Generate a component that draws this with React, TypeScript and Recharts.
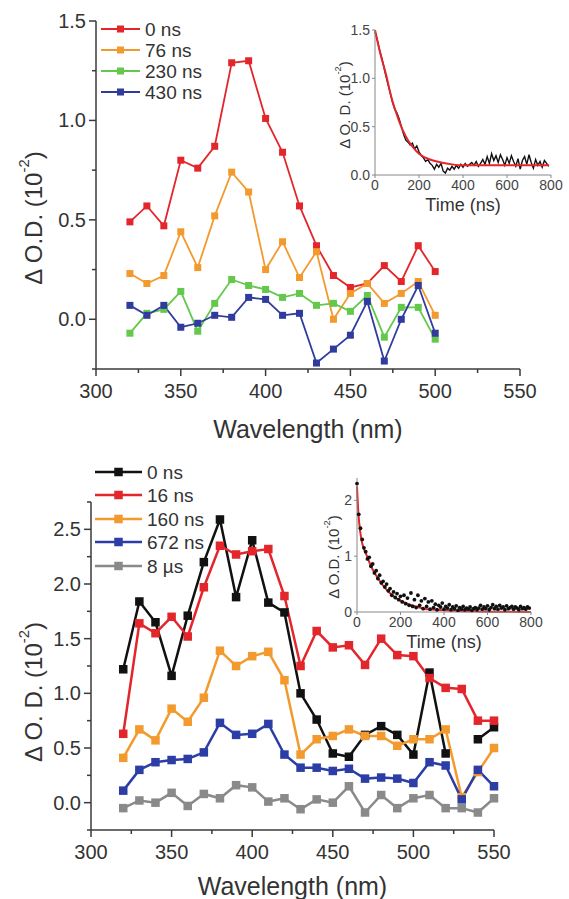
import React from "react";
import {
  LineChart,
  ComposedChart,
  Line,
  Scatter,
  XAxis,
  YAxis,
  Label,
} from "recharts";

const FONT = '"Liberation Sans", Arial, Helvetica, sans-serif';
const AXIS = "#3a3a3a";
const TEXT = "#333";

// ---- top panel: spectra at 0 / 76 / 230 / 430 ns ----
const TOP_NM = [320, 330, 340, 350, 360, 370, 380, 390, 400, 410, 420, 430, 440, 450, 460, 470, 480, 490, 500];
const TOP_0NS = [0.49, 0.57, 0.47, 0.8, 0.76, 0.87, 1.29, 1.3, 1.01, 0.84, 0.57, 0.37, 0.22, 0.16, 0.18, 0.27, 0.19, 0.37, 0.24];
const TOP_76NS = [0.23, 0.18, 0.22, 0.44, 0.26, 0.52, 0.74, 0.64, 0.25, 0.39, 0.21, 0.34, 0.0, 0.13, 0.18, 0.08, 0.13, 0.19, 0.02];
const TOP_230NS = [-0.07, 0.03, 0.05, 0.14, -0.06, 0.08, 0.2, 0.17, 0.15, 0.11, 0.13, 0.07, 0.08, 0.04, 0.12, -0.09, 0.06, 0.06, -0.1];
const TOP_430NS = [0.07, 0.02, 0.07, -0.04, -0.02, 0.02, 0.01, 0.11, 0.1, 0.02, 0.03, -0.22, -0.15, -0.08, 0.09, -0.21, 0.0, 0.17, -0.07];

// ---- bottom panel: spectra at 0 / 16 / 160 / 672 ns / 8 us ----
const BOT_NM = [320, 330, 340, 350, 360, 370, 380, 390, 400, 410, 420, 430, 440, 450, 460, 470, 480, 490, 500, 510, 520, 530, 540, 550];
const BOT_0NS = [1.22, 1.84, 1.65, 1.16, 1.71, 2.2, 2.59, 1.88, 2.4, 1.83, 1.74, 1.0, 0.76, 0.45, 0.42, 0.62, 0.7, 0.62, 0.44, 1.19, 0.45, null, 0.58, 0.69];
const BOT_16NS = [0.63, 1.64, 1.55, 1.7, 1.52, 1.97, 2.35, 2.27, 2.3, 2.32, 1.89, 1.25, 1.57, 1.42, 1.44, 1.26, 1.5, 1.35, 1.34, 1.14, 1.05, 1.04, 0.75, 0.75];
const BOT_160NS = [0.41, 0.67, 0.57, 0.86, 0.74, 0.96, 1.39, 1.25, 1.34, 1.38, 1.12, 0.44, 0.58, 0.61, 0.67, 0.61, 0.61, 0.52, 0.58, 0.58, 0.67, 0.05, 0.28, 0.5];
const BOT_672NS = [0.11, 0.3, 0.37, 0.39, 0.4, 0.46, 0.73, 0.62, 0.63, 0.72, 0.44, 0.32, 0.32, 0.29, 0.31, 0.22, 0.23, 0.22, 0.18, 0.37, 0.34, 0.03, 0.3, 0.15];
const BOT_8US = [-0.05, 0.02, 0.0, 0.09, -0.03, 0.08, 0.04, 0.16, 0.14, 0.01, 0.04, -0.06, 0.03, 0.0, 0.15, -0.09, 0.07, -0.05, 0.04, 0.07, -0.05, -0.05, -0.09, 0.04];

// ---- insets: kinetic traces (time ns, dOD) ----
const TOP_TRACE: [number, number][] = [
  [0, 1.48], [10, 1.4], [20, 1.3], [30, 1.22], [40, 1.12], [50, 1.02], [60, 0.93], [70, 0.84], [80, 0.75], [90, 0.68],
  [100, 0.64], [110, 0.58], [120, 0.5], [130, 0.42], [140, 0.36], [150, 0.34], [160, 0.31], [170, 0.33], [180, 0.27], [190, 0.3],
  [200, 0.24], [210, 0.2], [220, 0.18], [230, 0.14], [240, 0.16], [250, 0.12], [260, 0.1], [270, 0.06], [280, 0.11], [290, 0.08],
  [300, 0.12], [310, 0.04], [320, 0.02], [330, 0.07], [340, 0.05], [350, 0.09], [360, 0.06], [370, 0.1], [380, 0.07], [390, 0.11],
  [400, 0.08], [410, 0.12], [420, 0.09], [430, 0.11], [440, 0.13], [450, 0.1], [460, 0.14], [470, 0.09], [480, 0.12], [490, 0.16],
  [500, 0.11], [510, 0.19], [520, 0.12], [530, 0.22], [540, 0.15], [550, 0.2], [560, 0.13], [570, 0.21], [580, 0.16], [590, 0.1],
  [600, 0.18], [610, 0.12], [620, 0.2], [630, 0.14], [640, 0.09], [650, 0.17], [660, 0.06], [670, 0.15], [680, 0.19], [690, 0.11],
  [700, 0.21], [710, 0.13], [720, 0.07], [730, 0.16], [740, 0.1], [750, 0.14], [760, 0.08], [770, 0.15], [780, 0.12], [790, 0.09],
];
const TOP_FIT: [number, number][] = [
  [0, 1.5], [25, 1.25], [50, 1.04], [75, 0.8], [100, 0.62], [125, 0.47], [150, 0.36], [175, 0.28], [200, 0.22],
  [250, 0.16], [300, 0.13], [350, 0.11], [400, 0.1], [500, 0.1], [600, 0.1], [700, 0.1], [790, 0.1],
];
const BOT_TRACE: [number, number][] = [
  [0, 2.3], [8, 1.75], [16, 1.5], [24, 1.3], [32, 1.15], [40, 1.08], [48, 0.95], [56, 0.98], [64, 0.82], [72, 0.86],
  [80, 0.7], [88, 0.74], [96, 0.6], [104, 0.66], [112, 0.52], [120, 0.55], [128, 0.45], [136, 0.5], [144, 0.38], [152, 0.42],
  [160, 0.3], [168, 0.36], [176, 0.26], [184, 0.33], [192, 0.22], [200, 0.28], [208, 0.18], [216, 0.3], [224, 0.15], [232, 0.25],
  [240, 0.12], [248, 0.34], [256, 0.1], [264, 0.22], [272, 0.08], [280, 0.3], [288, 0.12], [296, 0.2], [304, 0.06], [312, 0.24],
  [320, 0.1], [328, 0.18], [336, 0.05], [344, 0.2], [352, 0.08], [360, 0.14], [368, 0.04], [376, 0.12], [384, 0.09], [392, 0.16],
  [400, 0.05], [408, 0.1], [416, 0.07], [424, 0.13], [432, 0.04], [440, 0.09], [448, 0.06], [456, 0.11], [464, 0.03], [472, 0.08],
  [480, 0.05], [488, 0.1], [496, 0.04], [504, 0.07], [512, 0.05], [520, 0.09], [528, 0.03], [536, 0.06], [544, 0.08], [552, 0.04],
  [560, 0.07], [568, 0.12], [576, 0.05], [584, 0.09], [592, 0.06], [600, 0.11], [608, 0.04], [616, 0.08], [624, 0.13], [632, 0.06],
  [640, 0.1], [648, 0.05], [656, 0.12], [664, 0.07], [672, 0.09], [680, 0.04], [688, 0.11], [696, 0.06], [704, 0.08], [712, 0.1],
  [720, 0.05], [728, 0.09], [736, 0.07], [744, 0.04], [752, 0.1], [760, 0.06], [768, 0.08], [776, 0.05], [784, 0.09], [792, 0.07],
];
const BOT_FIT: [number, number][] = [
  [0, 2.25], [5, 1.85], [10, 1.6], [20, 1.3], [30, 1.15], [46, 1.0], [60, 0.86], [75, 0.74], [92, 0.63], [120, 0.47],
  [153, 0.33], [190, 0.22], [230, 0.15], [270, 0.1], [306, 0.06], [360, 0.04], [460, 0.02], [560, 0.01], [800, 0.0],
];

// ticks
const WL_TICKS = [300, 325, 350, 375, 400, 425, 450, 475, 500, 525, 550];
const TOP_Y_TICKS = [-0.25, 0, 0.25, 0.5, 0.75, 1.0, 1.25, 1.5];
const BOT_Y_TICKS = [-0.25, 0, 0.25, 0.5, 0.75, 1.0, 1.25, 1.5, 1.75, 2.0, 2.25, 2.5, 2.75];
const TIME_TICKS = [0, 200, 400, 600, 800];
const TOP_INSET_Y = [0, 0.5, 1.0, 1.5];
const BOT_INSET_Y = [0, 1, 2];

const TOP_SERIES = [
  { key: "s0", name: "0 ns", color: "#e3262b", values: TOP_0NS },
  { key: "s76", name: "76 ns", color: "#f39a2e", values: TOP_76NS },
  { key: "s230", name: "230 ns", color: "#64c84c", values: TOP_230NS },
  { key: "s430", name: "430 ns", color: "#2f3c9e", values: TOP_430NS },
];
const BOT_SERIES = [
  { key: "b0", name: "0 ns", color: "#111111", values: BOT_0NS },
  { key: "b16", name: "16 ns", color: "#e3262b", values: BOT_16NS },
  { key: "b160", name: "160 ns", color: "#f39a2e", values: BOT_160NS },
  { key: "b672", name: "672 ns", color: "#2c3ea6", values: BOT_672NS },
  { key: "b8", name: "8 \u00b5s", color: "#8a8a8a", values: BOT_8US },
];

function buildRows(nm: number[], series: { key: string; values: (number | null)[] }[]) {
  return nm.map((x, i) => {
    const row: Record<string, number | null> = { nm: x };
    for (const s of series) row[s.key] = s.values[i];
    return row;
  });
}
const toXY = (pts: [number, number][]) => pts.map(([t, v]) => ({ t, v }));

const topRows = buildRows(TOP_NM, TOP_SERIES);
const botRows = buildRows(BOT_NM, BOT_SERIES);

const isMajor = (v: number, step: number) => Math.abs(v / step - Math.round(v / step)) < 1e-6;

function WlTick(props: any) {
  const { x, y, payload } = props;
  const major = isMajor(payload.value, 50);
  return (
    <g>
      <line x1={x} x2={x} y1={y} y2={y + (major ? 7 : 4)} stroke={AXIS} strokeWidth={1.5} />
      {major && (
        <text x={x} y={y + 29} textAnchor="middle" fontSize={20} fill={TEXT} fontFamily={FONT}>
          {payload.value}
        </text>
      )}
    </g>
  );
}

function OdTick(props: any) {
  const { x, y, payload } = props;
  const major = isMajor(payload.value, 0.5);
  return (
    <g>
      <line x1={x - (major ? 7 : 4)} x2={x} y1={y} y2={y} stroke={AXIS} strokeWidth={1.5} />
      {major && (
        <text x={x - 10} y={y + 7} textAnchor="end" fontSize={20} fill={TEXT} fontFamily={FONT}>
          {payload.value.toFixed(1)}
        </text>
      )}
    </g>
  );
}

const xTitle = (text: string, dy: number, size: number) => (props: any) => {
  const vb = props.viewBox;
  return (
    <text x={vb.x + vb.width / 2} y={vb.y + dy} textAnchor="middle" fontSize={size} fill={TEXT} fontFamily={FONT}>
      {text}
    </text>
  );
};

const yTitle = (text: string, cx: number, cy: number, size: number) => () => (
  <text
    x={cx}
    y={cy}
    transform={`rotate(-90 ${cx} ${cy})`}
    textAnchor="middle"
    dominantBaseline="central"
    fontSize={size}
    fill={TEXT}
    fontFamily={FONT}
  >
    {text}(10
    <tspan dy={-size * 0.38} fontSize={size * 0.62}>-2</tspan>
    <tspan dy={size * 0.38}>)</tspan>
  </text>
);

const squareDot = (color: string, s: number) => (p: any) => {
  const k = `${p.dataKey}-${p.index}`;
  if (p.cx == null || p.cy == null || p.value == null) return <g key={k} />;
  return <rect key={k} x={p.cx - s / 2} y={p.cy - s / 2} width={s} height={s} fill={color} />;
};

function LegendBlock({
  items,
  x0,
  x1,
  ys,
  size,
  lw,
}: {
  items: { name: string; color: string }[];
  x0: number;
  x1: number;
  ys: number[];
  size: number;
  lw: number;
}) {
  const mid = (x0 + x1) / 2;
  return (
    <>
      {items.map((it, i) => (
        <g key={it.name + i}>
          <line x1={x0} x2={x1} y1={ys[i]} y2={ys[i]} stroke={it.color} strokeWidth={lw} />
          <rect x={mid - size / 2} y={ys[i] - size / 2} width={size} height={size} fill={it.color} />
          <text x={x1 + 5} y={ys[i] + 7} fontSize={19} fill={TEXT} fontFamily={FONT}>
            {it.name}
          </text>
        </g>
      ))}
    </>
  );
}

const insetTickStyle = { fontSize: 14, fill: "#444", fontFamily: FONT };

export default function App() {
  return (
    <div style={{ position: "absolute", left: 0, top: 0, width: 569, height: 899, background: "#fff", fontFamily: FONT }}>
      {/* top main panel */}
      <div style={{ position: "absolute", left: 0, top: 0 }}>
        <LineChart width={569} height={460} data={topRows} margin={{ top: 21, right: 49, bottom: 0, left: 36 }}>
          <XAxis
            type="number"
            dataKey="nm"
            domain={[300, 550]}
            ticks={WL_TICKS}
            interval={0}
            tickSize={0}
            tickMargin={0}
            tickLine={false}
            tick={(p: any) => <WlTick {...p} />}
            axisLine={{ stroke: AXIS, strokeWidth: 1.5 }}
            height={91}
          >
            <Label content={xTitle("Wavelength (nm)", 69, 25)} />
          </XAxis>
          <YAxis
            type="number"
            domain={[-0.25, 1.5]}
            ticks={TOP_Y_TICKS}
            interval={0}
            tickSize={0}
            tickMargin={0}
            tickLine={false}
            tick={(p: any) => <OdTick {...p} />}
            axisLine={{ stroke: AXIS, strokeWidth: 1.5 }}
            width={60}
          >
            <Label content={yTitle("\u0394 O.D. ", 33, 218, 24)} />
          </YAxis>
          {TOP_SERIES.map((s) => (
            <Line
              key={s.key}
              type="linear"
              dataKey={s.key}
              stroke={s.color}
              strokeWidth={1.8}
              dot={squareDot(s.color, 7)}
              isAnimationActive={false}
            />
          ))}
        </LineChart>
      </div>

      {/* top inset */}
      <div style={{ position: "absolute", left: 320, top: 10 }}>
        <LineChart width={250} height={215} margin={{ top: 20, right: 19, bottom: 0, left: 0 }}>
          <XAxis
            type="number"
            dataKey="t"
            domain={[0, 800]}
            ticks={TIME_TICKS}
            interval={0}
            tickSize={3}
            tick={insetTickStyle}
            stroke="#888"
            height={50}
          >
            <Label content={xTitle("Time (ns)", 36, 18)} />
          </XAxis>
          <YAxis
            type="number"
            domain={[0, 1.5]}
            ticks={TOP_INSET_Y}
            interval={0}
            tickSize={3}
            tick={insetTickStyle}
            tickFormatter={(v: number) => v.toFixed(1)}
            stroke="#888"
            width={55}
          >
            <Label content={yTitle("\u0394 O. D. ", 24, 95, 15)} />
          </YAxis>
          <Line data={toXY(TOP_TRACE)} type="linear" dataKey="v" stroke="#111" strokeWidth={1.4} dot={false} isAnimationActive={false} />
          <Line data={toXY(TOP_FIT)} type="monotone" dataKey="v" stroke="#e3262b" strokeWidth={2} dot={false} isAnimationActive={false} />
        </LineChart>
      </div>

      {/* bottom main panel */}
      <div style={{ position: "absolute", left: 0, top: 440 }}>
        <LineChart width={569} height={459} data={botRows} margin={{ top: 62, right: 75, bottom: 0, left: 31 }}>
          <XAxis
            type="number"
            dataKey="nm"
            domain={[300, 550]}
            ticks={WL_TICKS}
            interval={0}
            tickSize={0}
            tickMargin={0}
            tickLine={false}
            tick={(p: any) => <WlTick {...p} />}
            axisLine={{ stroke: AXIS, strokeWidth: 1.5 }}
            height={69}
          >
            <Label content={xTitle("Wavelength (nm)", 65, 25)} />
          </XAxis>
          <YAxis
            type="number"
            domain={[-0.25, 2.75]}
            ticks={BOT_Y_TICKS}
            interval={0}
            tickSize={0}
            tickMargin={0}
            tickLine={false}
            tick={(p: any) => <OdTick {...p} />}
            axisLine={{ stroke: AXIS, strokeWidth: 1.5 }}
            width={60}
          >
            <Label content={yTitle("\u0394 O. D. ", 33, 252, 24)} />
          </YAxis>
          {BOT_SERIES.map((s) => (
            <Line
              key={s.key}
              type="linear"
              dataKey={s.key}
              stroke={s.color}
              strokeWidth={2.5}
              dot={squareDot(s.color, 8.5)}
              connectNulls={false}
              isAnimationActive={false}
            />
          ))}
        </LineChart>
      </div>

      {/* bottom inset */}
      <div style={{ position: "absolute", left: 300, top: 460 }}>
        <ComposedChart width={250} height={200} margin={{ top: 18, right: 19, bottom: 0, left: 0 }}>
          <XAxis
            type="number"
            dataKey="t"
            domain={[0, 800]}
            ticks={TIME_TICKS}
            interval={0}
            tickSize={3}
            tick={insetTickStyle}
            stroke="#888"
            height={48}
          >
            <Label content={xTitle("Time (ns)", 36, 18)} />
          </XAxis>
          <YAxis
            type="number"
            dataKey="v"
            domain={[0, 2.4]}
            ticks={BOT_INSET_Y}
            interval={0}
            tickSize={3}
            tick={insetTickStyle}
            stroke="#888"
            width={57}
          >
            <Label content={yTitle("\u0394 O.D. ", 33, 97, 15)} />
          </YAxis>
          <Scatter
            data={toXY(BOT_TRACE)}
            dataKey="v"
            fill="#111"
            shape={(p: any) => <circle cx={p.cx} cy={p.cy} r={1.9} fill="#111" />}
            isAnimationActive={false}
          />
          <Line data={toXY(BOT_FIT)} type="monotone" dataKey="v" stroke="#e3262b" strokeWidth={2} dot={false} isAnimationActive={false} />
        </ComposedChart>
      </div>

      {/* legends */}
      <svg width={569} height={899} style={{ position: "absolute", left: 0, top: 0, pointerEvents: "none" }}>
        <LegendBlock items={TOP_SERIES} x0={101} x1={140} ys={[29, 50, 71, 92]} size={7} lw={1.8} />
        <LegendBlock items={BOT_SERIES} x0={95} x1={142} ys={[472, 495, 519, 542, 566]} size={8.5} lw={2.5} />
      </svg>
    </div>
  );
}
